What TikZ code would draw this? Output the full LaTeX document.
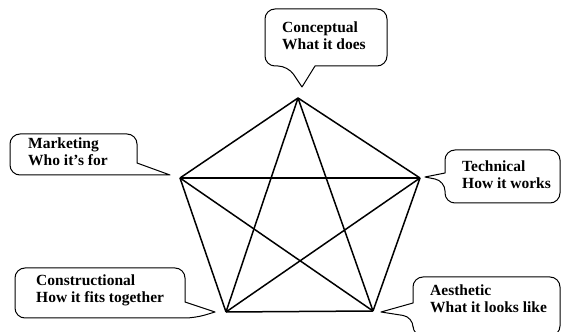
\documentclass[tikz,border=0pt]{standalone}
\usepackage{fontspec}
\setmainfont{Liberation Serif}
\begin{document}
\begin{tikzpicture}[x=1pt, y=1pt, line join=round,
    txt/.style={font=\fontsize{15.5}{17.5}\selectfont\bfseries, align=left, inner sep=0pt, anchor=base west},
    bubble/.style={line width=1pt},
    edge/.style={line width=1.5pt}]
    \useasboundingbox (0,0) rectangle (563,332);
    % corners of the pentagon
    \coordinate (vC) at (298,234);
    \coordinate (vM) at (180,154);
    \coordinate (vT) at (420,154);
    \coordinate (vS) at (226,20);
    \coordinate (vA) at (373,21);
    % tips of the callouts
    \coordinate (pC) at (302,245);
    \coordinate (pM) at (170,157);
    \coordinate (pT) at (425,155);
    \coordinate (pS) at (215,20);
    \coordinate (pA) at (381,20);
    % pentagon
    \draw[edge](vC) -- (vT);
    \draw[edge](vT) -- (vA);
    \draw[edge](vA) -- (vS);
    \draw[edge](vS) -- (vM);
    \draw[edge](vM) -- (vC);
    % star
    \draw[edge](vC) -- (vS);
    \draw[edge](vC) -- (vA);
    \draw[edge](vM) -- (vT);
    \draw[edge](vM) -- (vA);
    \draw[edge](vT) -- (vS);
    % callouts
    \node[txt] (concept) at (282,282){Conceptual\\What it does};
    \draw[bubble] (pC) -- (315,266) [rounded corners=10pt] -- (387,266) -- (387,323) -- (265,323) -- (265,266) -- (288,266) [sharp corners] -- cycle;
    \node[txt] (market) at (28,166){Marketing\\Who it's for};
    \draw[bubble] (pM) -- (137,169) [rounded corners=10pt] -- (137,198) -- (10,198) -- (10,157) -- (130,157) [sharp corners] -- cycle;
    \node[txt] (tech) at (462,143){Technical\\How it works};
    \draw[bubble] (pT) -- (445,159) [rounded corners=10pt] -- (445,182) -- (560,182) -- (560,129) -- (445,129) -- (445,151) [sharp corners] -- cycle;
    \node[txt] (constr) at (36,29){Constructional\\How it fits together};
    \draw[bubble] (pS) -- (185,30) [rounded corners=10pt] -- (185,64) -- (15,64) -- (15,14) -- (195,14) [sharp corners] -- cycle;
    \node[txt] (aesth) at (430,19){Aesthetic\\What it looks like};
    \draw[bubble] (pA) -- (413,29) [rounded corners=10pt] -- (413,55) -- (560,55) -- (560,-4) -- (413,-4) -- (413,15) [sharp corners] -- cycle;
\end{tikzpicture}
\end{document}
